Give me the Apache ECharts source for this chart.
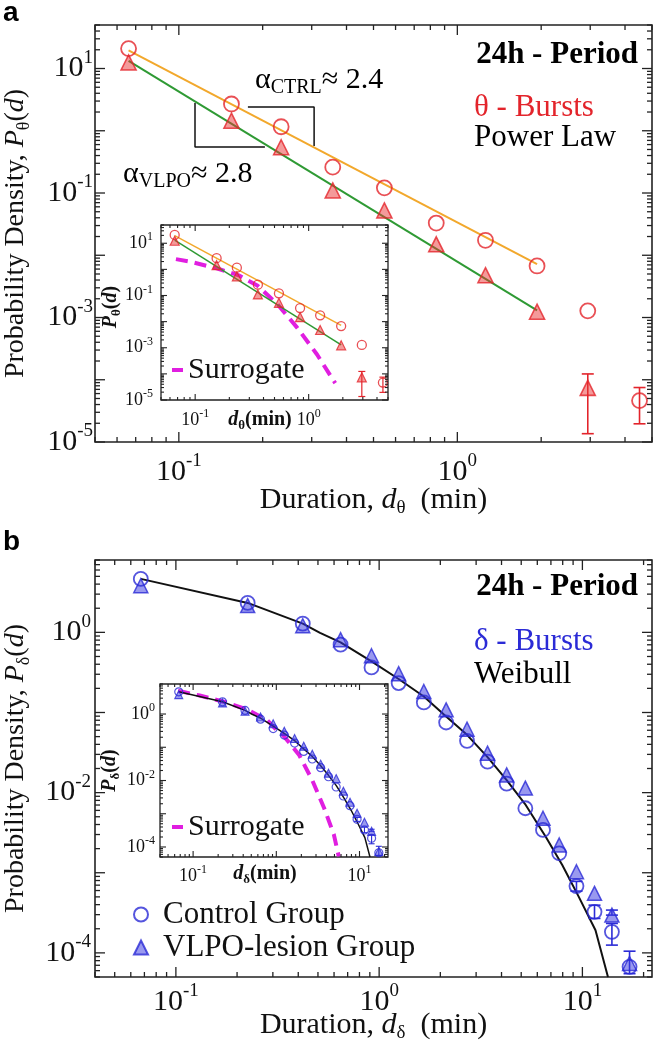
<!DOCTYPE html>
<html><head><meta charset="utf-8">
<script src="https://cdn.jsdelivr.net/npm/echarts@6/dist/echarts.min.js"></script>
<style>html,body{margin:0;padding:0;background:#fff}#c{width:656px;height:1056px}</style>
</head><body><div id="c"></div>
<script>
// ---------- Panel a : theta bursts (power law) ----------
const aCtrlDur = [0.066, 0.1545, 0.233, 0.357, 0.547, 0.840, 1.262, 1.933, 2.94, 4.51];
const aCtrl    = [20.9, 2.69, 1.16, 0.260, 0.121, 0.0329, 0.0174, 0.00673, 0.00128, 4.63e-5];
const aVlpoDur = [0.066, 0.1545, 0.233, 0.357, 0.547, 0.840, 1.262, 1.933, 2.94];
const aVlpo    = [12.5, 1.45, 0.543, 0.110, 0.0525, 0.0150, 0.00478, 0.00124, 7.4e-5];
const aErrDur  = [2.94, 4.51];
const aErrLow  = [1.36e-5, 1.96e-5];
const aErrHigh = [1.24e-4, 7.5e-5];
const aCtrlFitX = [0.066, 1.933], aCtrlFitY = [19.5, 0.0072];
const aVlpoFitX = [0.066, 1.933], aVlpoFitY = [13.3, 0.0013];
const aSurX = [0.0677, 0.0917, 0.157, 0.2416, 0.3526, 0.528, 0.791, 1.185, 1.715];
const aSurY = [2.47, 1.94, 1.08, 0.593, 0.243, 0.0475, 0.0059, 5.5e-4, 4.4e-5];
const aCtrlBracketX = [0.177, 0.306, 0.306], aCtrlBracketY = [2.41, 2.41, 0.569];
const aVlpoBracketX = [0.1143, 0.1143, 0.2037], aVlpoBracketY = [2.79, 0.548, 0.548];
// ---------- Panel b : delta bursts (Weibull) ----------
const bDur  = [0.0672, 0.2255, 0.421, 0.646, 0.917, 1.247, 1.659, 2.136, 2.706, 3.414, 4.24, 5.24, 6.40, 7.69, 9.35, 11.47, 13.97, 17.06];
const bCtrl = [4.65, 2.33, 1.285, 0.702, 0.365, 0.233, 0.1334, 0.075, 0.0443, 0.0244, 0.01296, 0.00638, 0.00342, 0.00175, 6.82e-4, 3.25e-4, 1.83e-4, 6.7e-5];
const bVlpo = [3.83, 2.16, 1.21, 0.811, 0.511, 0.305, 0.183, 0.108, 0.062, 0.0311, 0.01665, 0.0114, 0.00479, 0.00222, 0.00103, 5.53e-4, 2.96e-4, 7.37e-5];
const bErrDur  = [9.35, 11.47, 13.97, 13.97, 17.06];
const bErrLow  = [5.9e-4, 2.69e-4, 1.25e-4, 2.96e-4, 5.5e-5];
const bErrHigh = [7.8e-4, 3.94e-4, 2.33e-4, 3.42e-4, 1.05e-4];
const bFitX = [0.0672, 0.2255, 0.421, 0.512, 0.646, 0.917, 1.247, 1.659, 2.136, 2.706, 3.414, 4.24, 5.26, 6.60, 7.96, 9.60, 11.6, 13.36];
const bFitY = [4.65, 2.33, 1.285, 0.983, 0.75, 0.434, 0.2616, 0.1585, 0.0891, 0.0526, 0.0277, 0.0143, 0.00702, 0.00282, 0.00125, 5.0e-4, 1.92e-4, 5.0e-5];
const bSurX = [0.066, 0.120, 0.239, 0.45, 0.778, 1.0, 1.19, 1.87, 2.68, 3.73, 4.91, 5.63];
const bSurY = [5.0, 3.6, 2.3, 1.35, 0.65, 0.34, 0.24, 0.06, 0.0107, 1.55e-3, 2.4e-4, 5.2e-5];
// ---------- axis ranges and tick labels ----------
const aRangeX = [0.05, 5], aRangeY = [1e-5, 50];
const bRangeX = [0.04, 22], bRangeY = [5e-5, 8];
const aXLabels = [0.1, 1], aYLabels = [10, 0.1, 1e-3, 1e-5];
const aInXLabels = [0.1, 1], aInYLabels = [10, 0.1, 1e-3, 1e-5];
const bXLabels = [0.1, 1, 10], bYLabels = [1, 0.01, 1e-4];
const bInXLabels = [0.1, 10], bInYLabels = [1, 0.01, 1e-4];

const SERIF = '"Liberation Serif", "Times New Roman", serif';
const RED = '#e3242b', BLUE = '#2b2bd6', MAG = '#e01ee0', INK = '#111';

const zip = (xs, ys) => xs.map((x, i) => [x, ys[i]]);
function fmt(list) {
  return function (v) {
    for (const t of list) {
      if (Math.abs(Math.log10(v) - Math.log10(t)) < 1e-6) return '{b|10}{s|' + Math.round(Math.log10(t)) + '}';
    }
    return '';
  };
}
const mainRich = {
  b: {fontFamily: SERIF, fontSize: 30, lineHeight: 40, color: INK},
  s: {fontFamily: SERIF, fontSize: 19, lineHeight: 19, verticalAlign: 'top', color: INK}
};
const inRich = {
  b: {fontFamily: SERIF, fontSize: 18, lineHeight: 24, color: INK},
  s: {fontFamily: SERIF, fontSize: 12, lineHeight: 12, verticalAlign: 'top', color: INK}
};
function mkNameRich(fs, sub) {
  return {
    t: {fontFamily: SERIF, fontSize: fs, lineHeight: fs + 6, color: INK},
    i: {fontFamily: SERIF, fontSize: fs, lineHeight: fs + 6, fontStyle: 'italic', color: INK},
    u: {fontFamily: SERIF, fontSize: sub, lineHeight: sub, verticalAlign: 'bottom', color: INK}
  };
}
const xNameRich = mkNameRich(30, 19);
const yNameRich = mkNameRich(28, 18);
const inNameRich = {
  t: {fontFamily: SERIF, fontSize: 20, lineHeight: 24, fontWeight: 'bold', color: INK},
  i: {fontFamily: SERIF, fontSize: 20, lineHeight: 24, fontWeight: 'bold', fontStyle: 'italic', color: INK},
  u: {fontFamily: SERIF, fontSize: 13, lineHeight: 13, fontWeight: 'bold', verticalAlign: 'bottom', color: INK}
};

function axis(gi, range, labels, rich, margin, name, nRich, nGap, nPad) {
  return {
    type: 'log', logBase: 10, gridIndex: gi, min: range[0], max: range[1],
    axisLine: {show: false}, axisTick: {show: false}, splitLine: {show: false}, minorTick: {show: false},
    axisLabel: {margin: margin, formatter: fmt(labels), rich: rich, showMinLabel: true, showMaxLabel: true},
    name: name, nameLocation: 'middle', nameGap: nGap, nameMoveOverlap: false,
    nameTextStyle: {rich: nRich, padding: nPad || 0}
  };
}

function tickData(xr, yr) {
  const d = [];
  const add = (r, f) => {
    for (let e = Math.floor(Math.log10(r[0])); e <= Math.ceil(Math.log10(r[1])); e++) {
      for (let k = 1; k <= 9; k++) {
        const v = k * Math.pow(10, e);
        if (v >= r[0] * 0.9999 && v <= r[1] * 1.0001) f(v, k === 1 ? 1 : 0);
      }
    }
  };
  add(xr, (v, m) => d.push([v, yr[0], 0, m]));
  add(yr, (v, m) => d.push([xr[0], v, 1, m]));
  return d;
}
function tickSeries(gi, xr, yr, big, small, lw) {
  return {
    type: 'custom', xAxisIndex: gi, yAxisIndex: gi, silent: true, z: 6, data: tickData(xr, yr),
    renderItem: function (params, api) {
      const cs = params.coordSys;
      const p = api.coord([api.value(0), api.value(1)]);
      const L = api.value(3) ? big : small;
      const st = {stroke: '#222', lineWidth: lw};
      let s1, s2;
      if (api.value(2) === 0) {
        s1 = {x1: p[0], y1: cs.y + cs.height, x2: p[0], y2: cs.y + cs.height - L};
        s2 = {x1: p[0], y1: cs.y, x2: p[0], y2: cs.y + L};
      } else {
        s1 = {x1: cs.x, y1: p[1], x2: cs.x + L, y2: p[1]};
        s2 = {x1: cs.x + cs.width, y1: p[1], x2: cs.x + cs.width - L, y2: p[1]};
      }
      return {type: 'group', children: [{type: 'line', shape: s1, style: st}, {type: 'line', shape: s2, style: st}]};
    }
  };
}
function errSeries(gi, xs, lo, hi, color, cap, lw) {
  return {
    type: 'custom', xAxisIndex: gi, yAxisIndex: gi, silent: true, z: 3,
    data: xs.map((x, i) => [x, lo[i], hi[i]]),
    renderItem: function (params, api) {
      const p1 = api.coord([api.value(0), api.value(1)]);
      const p2 = api.coord([api.value(0), api.value(2)]);
      const st = {stroke: color, lineWidth: lw};
      return {type: 'group', children: [
        {type: 'line', shape: {x1: p1[0], y1: p1[1], x2: p2[0], y2: p2[1]}, style: st},
        {type: 'line', shape: {x1: p1[0] - cap, y1: p1[1], x2: p1[0] + cap, y2: p1[1]}, style: st},
        {type: 'line', shape: {x1: p2[0] - cap, y1: p2[1], x2: p2[0] + cap, y2: p2[1]}, style: st}
      ]};
    }
  };
}
function lineS(gi, data, color, width, extra) {
  return Object.assign({type: 'line', xAxisIndex: gi, yAxisIndex: gi, data: data, showSymbol: false, symbol: 'none',
    silent: true, z: 2, lineStyle: {color: color, width: width}, itemStyle: {color: color}}, extra || {});
}
function circS(gi, data, color, size, bw, name) {
  return {type: 'scatter', name: name, xAxisIndex: gi, yAxisIndex: gi, data: data, symbol: 'circle', symbolSize: size,
    silent: true, z: 4, itemStyle: {color: 'rgba(255,255,255,0)', borderColor: color, borderWidth: bw}};
}
function triS(gi, data, color, fill, size, bw, name) {
  return {type: 'scatter', name: name, xAxisIndex: gi, yAxisIndex: gi, data: data, symbol: 'triangle', symbolSize: size,
    silent: true, z: 4, itemStyle: {color: fill, borderColor: color, borderWidth: bw}};
}

const chart = echarts.init(document.getElementById('c'), null, {renderer: 'canvas'});
const gridBase = {show: true, borderColor: '#222', outerBoundsMode: 'none', containLabel: false};
const option = {
  animation: false,
  backgroundColor: '#fff',
  grid: [
    Object.assign({left: 95, top: 25, width: 557, height: 417, borderWidth: 1.6, backgroundColor: 'rgba(0,0,0,0)'}, gridBase),
    Object.assign({left: 161, top: 225, width: 227, height: 175, borderWidth: 1.3, backgroundColor: '#fff'}, gridBase),
    Object.assign({left: 95, top: 560, width: 557, height: 417, borderWidth: 1.6, backgroundColor: 'rgba(0,0,0,0)'}, gridBase),
    Object.assign({left: 160, top: 684, width: 228, height: 173, borderWidth: 1.3, backgroundColor: '#fff'}, gridBase)
  ],
  xAxis: [
    axis(0, aRangeX, aXLabels, mainRich, 10, '{t|Duration, }{i|d}{u|θ}{t|  (min)}', xNameRich, 40),
    axis(1, aRangeX, aInXLabels, inRich, 8, '{i|d}{u|θ}{t|(min)}', inNameRich, 8, [0, 29, 0, 0]),
    axis(2, bRangeX, bXLabels, mainRich, 5, '{t|Duration, }{i|d}{u|δ}{t|  (min)}', xNameRich, 30),
    axis(3, bRangeX, bInXLabels, inRich, 7, '{i|d}{u|δ}{t|(min)}', inNameRich, 5, [0, 18, 0, 0])
  ],
  yAxis: [
    axis(0, aRangeY, aYLabels, mainRich, 2, '{t|Probability Density, }{i|P}{u|θ}{t|(}{i|d}{t|)}', yNameRich, 62),
    axis(1, aRangeY, aInYLabels, inRich, 8, '{i|P}{u|θ}{t|(}{i|d}{t|)}', inNameRich, 38, [0, 0, 0, 11]),
    axis(2, bRangeY, bYLabels, mainRich, 4, '{t|Probability Density, }{i|P}{u|δ}{t|(}{i|d}{t|)}', yNameRich, 62),
    axis(3, bRangeY, bInYLabels, inRich, 5, '{i|P}{u|δ}{t|(}{i|d}{t|)}', inNameRich, 38)
  ],
  legend: [
    {orient: 'vertical', left: 133, top: 899, padding: 0, itemWidth: 14, itemHeight: 14, itemGap: 2, selectedMode: false,
     textStyle: {fontFamily: SERIF, fontSize: 31, lineHeight: 31, color: INK, padding: [0, 0, 0, 10]},
     data: [{name: 'Control Group', icon: 'circle'}, {name: 'VLPO-lesion Group', icon: 'triangle'}]},
    {orient: 'vertical', left: 172, top: 355, padding: 0, itemWidth: 11, itemHeight: 4, symbolKeepAspect: false, selectedMode: false,
     textStyle: {fontFamily: SERIF, fontSize: 30, lineHeight: 30, color: INK},
     data: [{name: 'Surrogate', icon: 'rect'}]},
    {orient: 'vertical', left: 172, top: 812, padding: 0, itemWidth: 11, itemHeight: 4, symbolKeepAspect: false, selectedMode: false,
     textStyle: {fontFamily: SERIF, fontSize: 30, lineHeight: 30, color: INK},
     data: [{name: 'Surrogate', icon: 'rect'}]}
  ],
  series: [
    // panel a main
    lineS(0, zip(aCtrlFitX, aCtrlFitY), '#f2a82c', 2),
    lineS(0, zip(aVlpoFitX, aVlpoFitY), '#2f9a34', 2),
    lineS(0, zip(aCtrlBracketX, aCtrlBracketY), '#111', 1.5),
    lineS(0, zip(aVlpoBracketX, aVlpoBracketY), '#111', 1.5),
    errSeries(0, aErrDur, aErrLow, aErrHigh, RED, 6, 1.6),
    triS(0, zip(aVlpoDur, aVlpo), RED, 'rgba(232,50,50,0.62)', 15, 1.6),
    circS(0, zip(aCtrlDur, aCtrl), RED, 15, 1.8),
    tickSeries(0, aRangeX, aRangeY, 10, 5, 1.3),
    // panel a inset
    lineS(1, zip(aSurX, aSurY), MAG, 4, {name: 'Surrogate', lineStyle: {color: MAG, width: 4, type: [12, 7]}}),
    lineS(1, zip(aCtrlFitX, aCtrlFitY), '#f2a82c', 1.5),
    lineS(1, zip(aVlpoFitX, aVlpoFitY), '#2f9a34', 1.5),
    errSeries(1, aErrDur, aErrLow, aErrHigh, RED, 3.5, 1.2),
    triS(1, zip(aVlpoDur, aVlpo), RED, 'rgba(232,50,50,0.62)', 9, 1.2),
    circS(1, zip(aCtrlDur, aCtrl), RED, 9, 1.3),
    tickSeries(1, aRangeX, aRangeY, 6, 3, 1.1),
    // panel b main
    lineS(2, zip(bFitX, bFitY), '#111', 2),
    errSeries(2, bErrDur, bErrLow, bErrHigh, BLUE, 6, 1.6),
    triS(2, zip(bDur, bVlpo), BLUE, 'rgba(60,60,225,0.65)', 14, 1.5, 'VLPO-lesion Group'),
    circS(2, zip(bDur, bCtrl), BLUE, 14, 1.8, 'Control Group'),
    tickSeries(2, bRangeX, bRangeY, 10, 5, 1.3),
    // panel b inset
    lineS(3, zip(bSurX, bSurY), MAG, 4, {name: 'Surrogate', lineStyle: {color: MAG, width: 4, type: [12, 7]}}),
    lineS(3, zip(bFitX, bFitY), '#111', 1.5),
    errSeries(3, bErrDur, bErrLow, bErrHigh, BLUE, 3, 1.1),
    triS(3, zip(bDur, bVlpo), BLUE, 'rgba(60,60,225,0.65)', 8, 1.1),
    circS(3, zip(bDur, bCtrl), BLUE, 8, 1.2),
    tickSeries(3, bRangeX, bRangeY, 6, 3, 1.1)
  ],
  graphic: [
    {type: 'text', x: 3, y: 13, style: {text: 'a', font: 'bold 28px "Liberation Sans", Arial, sans-serif', fill: '#000', verticalAlign: 'middle'}},
    {type: 'text', x: 3, y: 542, style: {text: 'b', font: 'bold 28px "Liberation Sans", Arial, sans-serif', fill: '#000', verticalAlign: 'middle'}},
    {type: 'text', x: 638, y: 55, style: {text: '24h - Period', font: 'bold 31px ' + SERIF, fill: '#000', align: 'right', verticalAlign: 'middle'}},
    {type: 'text', x: 474, y: 108, style: {text: 'θ - Bursts', font: '31px ' + SERIF, fill: RED, align: 'left', verticalAlign: 'middle'}},
    {type: 'text', x: 474, y: 138, style: {text: 'Power Law', font: '31px ' + SERIF, fill: '#000', align: 'left', verticalAlign: 'middle'}},
    {type: 'text', x: 638, y: 587, style: {text: '24h - Period', font: 'bold 31px ' + SERIF, fill: '#000', align: 'right', verticalAlign: 'middle'}},
    {type: 'text', x: 474, y: 642, style: {text: 'δ - Bursts', font: '31px ' + SERIF, fill: BLUE, align: 'left', verticalAlign: 'middle'}},
    {type: 'text', x: 474, y: 675, style: {text: 'Weibull', font: '31px ' + SERIF, fill: '#000', align: 'left', verticalAlign: 'middle'}},
    {type: 'text', x: 255, y: 80, style: {text: '{a|α}{s|CTRL}{a|≈ 2.4}', align: 'left', verticalAlign: 'middle',
      rich: {a: {fontFamily: SERIF, fontSize: 30, lineHeight: 36, fill: '#000'}, s: {fontFamily: SERIF, fontSize: 20, lineHeight: 20, verticalAlign: 'bottom', fill: '#000'}}}},
    {type: 'text', x: 123, y: 174, style: {text: '{a|α}{s|VLPO}{a|≈ 2.8}', align: 'left', verticalAlign: 'middle',
      rich: {a: {fontFamily: SERIF, fontSize: 30, lineHeight: 36, fill: '#000'}, s: {fontFamily: SERIF, fontSize: 20, lineHeight: 20, verticalAlign: 'bottom', fill: '#000'}}}}
  ]
};
chart.setOption(option);
</script></body></html>
